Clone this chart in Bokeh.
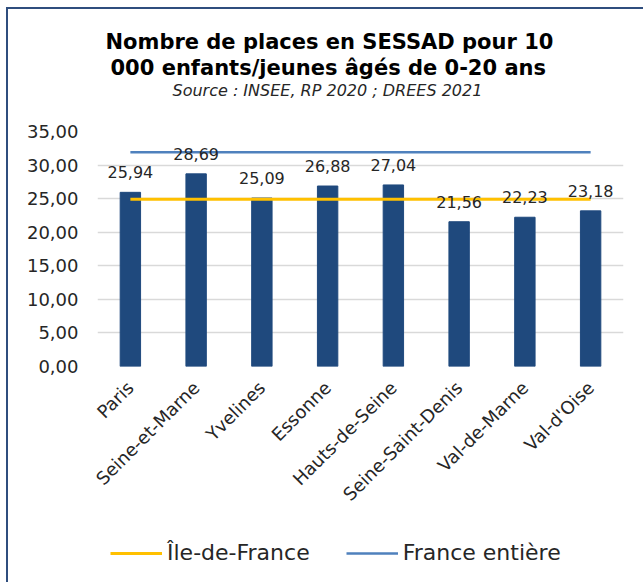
import math
from bokeh.plotting import figure
from bokeh.layouts import column
from bokeh.models import ColumnDataSource, FixedTicker, Title, Legend, LegendItem
from bokeh.core.properties import value
from bokeh.embed import file_html
from bokeh.resources import INLINE

# ---- data ----
departements = ["Paris", "Seine-et-Marne", "Yvelines", "Essonne",
                "Hauts-de-Seine", "Seine-Saint-Denis", "Val-de-Marne", "Val-d'Oise"]
places = [25.94, 28.69, 25.09, 26.88, 27.04, 21.56, 22.23, 23.18]
ile_de_france = 24.9
france_entiere = 31.9
y_ticks = [0, 5, 10, 15, 20, 25, 30, 35]
y_tick_labels = ["0,00", "5,00", "10,00", "15,00", "20,00", "25,00", "30,00", "35,00"]
title_line1 = "Nombre de places en SESSAD pour 10"
title_line2 = "000 enfants/jeunes âgés de 0-20 ans"
subtitle = "Source : INSEE, RP 2020 ; DREES 2021"
legend_labels = ["Île-de-France", "France entière"]

FONT = "DejaVu Sans"
BAR = "#1F497D"
GOLD = "#FFC000"
BLUE = "#4F81BD"
TXT = "#262626"
FRAME = "#2F4E7E"

src = ColumnDataSource(dict(
    dep=departements,
    val=places,
    lbl=[f"{v:.2f}".replace(".", ",") for v in places],
))

p = figure(x_range=departements, y_range=(0, 35), width=643, height=530,
           output_backend="svg", toolbar_location=None,
           min_border_left=97, min_border_right=20,
           min_border_top=131, min_border_bottom=164)
p.styles = {
    "background": (f"linear-gradient({FRAME},{FRAME}) 6px 7px / 2px 100% no-repeat, "
                   f"linear-gradient({FRAME},{FRAME}) 6px 7px / 100% 2px no-repeat, white"),
}
p.outline_line_color = None
p.background_fill_color = "white"
p.border_fill_color = None

p.vbar(x="dep", top="val", width=0.31, source=src, fill_color=BAR, line_color=BAR)
p.line(x=departements, y=[ile_de_france] * len(departements), line_color=GOLD, line_width=3)
p.line(x=departements, y=[france_entiere] * len(departements), line_color=BLUE, line_width=2.5)
p.text(x="dep", y="val", text="lbl", source=src, y_offset=-20,
       text_align="center", text_baseline="middle",
       text_font=value(FONT), text_font_size="16px", text_color=TXT)

# axes
p.xgrid.grid_line_color = None
p.ygrid.grid_line_color = "#D9D9D9"
p.ygrid.grid_line_width = 1.5
p.yaxis.ticker = FixedTicker(ticks=y_ticks)
p.yaxis.major_label_overrides = dict(zip(y_ticks, y_tick_labels))
for ax in (p.xaxis, p.yaxis):
    ax.axis_line_color = None
    ax.major_tick_line_color = None
    ax.minor_tick_line_color = None
    ax.major_tick_out = 0
    ax.major_tick_in = 0
    ax.major_label_text_font = FONT
    ax.major_label_text_color = TXT
    ax.major_label_text_font_size = "18px"
p.yaxis.major_label_standoff = 19
p.xaxis.major_label_orientation = math.pi / 4
p.xaxis.major_label_standoff = 18

# titles (first added sits closest to the plot)
p.add_layout(Title(text=" ", standoff=10, text_font_size="16px"), "above")
p.add_layout(Title(text=subtitle, align="left", offset=75, standoff=2,
                   vertical_align="top",
                   text_font=FONT, text_font_size="16px", text_font_style="italic",
                   text_color=TXT), "above")
p.add_layout(Title(text=title_line2, align="left", offset=13, standoff=0,
                   text_font=FONT, text_font_size="21px", text_font_style="bold",
                   text_color="black"), "above")
p.add_layout(Title(text=title_line1, align="left", offset=8, standoff=0,
                   text_font=FONT, text_font_size="21px", text_font_style="bold",
                   text_color="black"), "above")

# legend strip below the chart (its frame lines up with the chart's frame)
leg = figure(width=643, height=52, x_range=departements, y_range=(0, 1),
             output_backend="svg", toolbar_location=None,
             x_axis_type=None, y_axis_type=None, min_border=0)
leg.styles = {
    "background": f"linear-gradient({FRAME},{FRAME}) 6px 0 / 2px 100% no-repeat, white",
}
leg.outline_line_color = None
leg.grid.visible = False
leg.background_fill_color = None
leg.border_fill_color = None
# same series as the chart; they fall outside this strip's range, only their legend glyphs show
g_idf = leg.line(x=departements, y=[ile_de_france] * len(departements),
                 line_color=GOLD, line_width=3)
g_fr = leg.line(x=departements, y=[france_entiere] * len(departements),
                line_color=BLUE, line_width=2.5)
legend = Legend(items=[LegendItem(label=legend_labels[0], renderers=[g_idf]),
                       LegendItem(label=legend_labels[1], renderers=[g_fr])],
                orientation="horizontal", location=(13, 17),
                glyph_width=52, glyph_height=24, label_standoff=5, spacing=36,
                padding=0, margin=0, border_line_color=None, background_fill_alpha=0,
                label_text_font=FONT, label_text_font_size="22px", label_text_color=TXT)
leg.add_layout(legend)

open("out.html", "w").write(file_html(column(p, leg, spacing=0), INLINE))
